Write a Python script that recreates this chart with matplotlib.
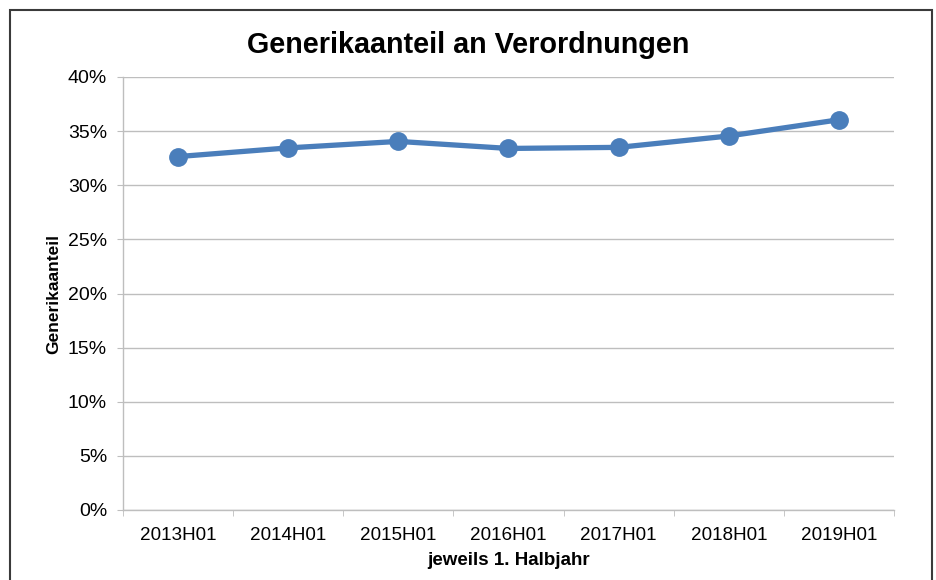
import matplotlib
matplotlib.use("Agg")
import matplotlib.pyplot as plt
from matplotlib.patches import Rectangle
from matplotlib.ticker import FixedLocator, PercentFormatter

plt.rcParams['font.family'] = ['Liberation Sans', 'DejaVu Sans']

# data
halbjahre = ['2013H01', '2014H01', '2015H01', '2016H01', '2017H01', '2018H01', '2019H01']
generikaanteil = [32.65, 33.45, 34.05, 33.4, 33.5, 34.55, 36.05]
y_ticks = [0, 5, 10, 15, 20, 25, 30, 35, 40]

fig = plt.figure(figsize=(9.36, 5.8), dpi=100)
ax = fig.add_axes([123/936, 1 - 510/580, (894-123)/936, (510-77)/580])

x = list(range(len(halbjahre)))
ax.plot(x, generikaanteil, color='#4A7EBB', linewidth=3.8, marker='o',
        markersize=12.5, solid_capstyle='round', zorder=3)

ax.set_xlim(-0.5, len(halbjahre) - 0.5)
ax.set_ylim(0, 40)
ax.set_yticks(y_ticks)
ax.yaxis.set_major_formatter(PercentFormatter(decimals=0))
ax.grid(axis='y', color='#BEBEBE', linewidth=1)
ax.set_axisbelow(True)

ax.set_xticks(x)
ax.set_xticklabels(halbjahre)
ax.xaxis.set_minor_locator(FixedLocator([i - 0.5 for i in range(len(halbjahre) + 1)]))
ax.tick_params(axis='x', which='major', length=0, pad=12, labelsize=13.6)
ax.tick_params(axis='x', which='minor', length=4.5, color='#BEBEBE')
ax.tick_params(axis='y', length=4.5, color='#BEBEBE', pad=7, labelsize=14)

for side in ['top', 'right']:
    ax.spines[side].set_visible(False)
for side in ['left', 'bottom']:
    ax.spines[side].set_color('#BEBEBE')
    ax.spines[side].set_linewidth(1)

fig.text(0.5, 1 - 45/580, 'Generikaanteil an Verordnungen', ha='center', va='center',
         fontsize=20.7, fontweight='bold')
ax.set_xlabel('jeweils 1. Halbjahr', fontsize=13.5, fontweight='bold', labelpad=6)
ax.set_ylabel('Generikaanteil', fontsize=12.5, fontweight='bold', labelpad=5)

# outer chart frame
fig.patches.append(Rectangle((10/936, -0.05), (932-10)/936, 1.05 - 10/580,
                             transform=fig.transFigure, fill=False,
                             edgecolor='#3A3A3A', linewidth=1.5))

fig.savefig('out.png', dpi=100)
